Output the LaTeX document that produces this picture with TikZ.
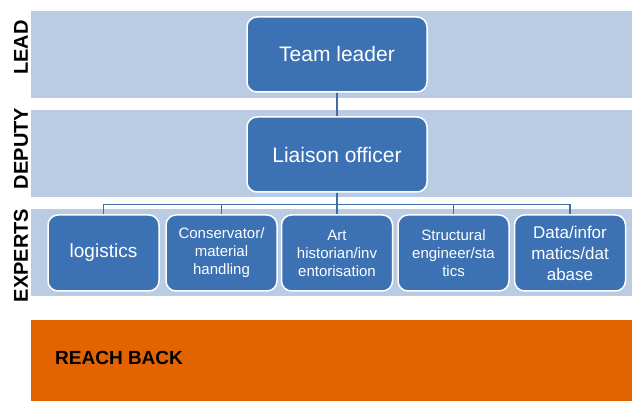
\documentclass[tikz,border=0pt]{standalone}
\usepackage{fontspec}
\setmainfont{Liberation Sans}
\definecolor{bandblue}{HTML}{B9CCE4}
\definecolor{boxblue}{HTML}{3C71B3}
\definecolor{lineblue}{HTML}{3E6DA8}
\definecolor{reachorange}{HTML}{E26300}
\begin{document}
\begin{tikzpicture}[x=1pt, y=1pt,
    band/.style={fill=bandblue, draw=none},
    role/.style={rounded corners=10pt, fill=boxblue, draw=white, line width=1.5pt, text=white, align=center, minimum height=75pt, inner sep=2pt},
    expert/.style={role, minimum width=111pt, minimum height=76pt, font=\fontsize{15}{18}\selectfont},
    lane/.style={rotate=90, font=\fontsize{20}{20}\selectfont\bfseries, inner sep=0pt},
    conn/.style={draw=lineblue, line width=1.4pt}]
    \useasboundingbox (0,0) rectangle (632,401);
    % bands
    \fill[band] (31,390) rectangle (640,303);
    \fill[band] (31,291) rectangle (640,204);
    \fill[band] (31,192) rectangle (640,105);
    \fill[reachorange] (31,81) rectangle (640,-20);

    \node[lane](llead) at (21, 353.5) {LEAD};
    \node[lane](ldeputy) at (21, 252.5) {DEPUTY};
    \node[lane](lexperts) at (21, 145.5) {EXPERTS};
    \node[anchor=west, inner sep=0pt, font=\fontsize{19}{19}\selectfont\bfseries](lreach) at (55, 43) {REACH BACK};

    \node[role, minimum width=180pt, font=\fontsize{21}{24}\selectfont](lead) at (337, 346.5) {Team leader};
    \node[role, minimum width=180pt, font=\fontsize{21}{24}\selectfont](liaison) at (337, 246.5) {Liaison officer};

    \node[expert, font=\fontsize{19}{22}\selectfont](e1) at (103.5, 148) {logistics};
    \node[expert](e2) at (221.5, 148) {Conservator/\\material\\handling};
    \node[expert](e3) at (337, 148) {Art\\historian/inv\\entorisation};
    \node[expert](e4) at (453.5, 148) {Structural\\engineer/sta\\tics};
    \node[expert, font=\fontsize{17}{21}\selectfont](e5) at (570, 148) {Data/infor\\matics/dat\\abase};

    \draw[conn] (lead) -- (liaison);
    \draw[conn, to path={-- ++(0,-12) -| (\tikztotarget)}]
    (liaison.south) edge (e1.north) (liaison.south) edge (e2.north) (liaison.south) edge (e3.north)
    (liaison.south) edge (e4.north) (liaison.south) edge (e5.north);
\end{tikzpicture}
\end{document}
